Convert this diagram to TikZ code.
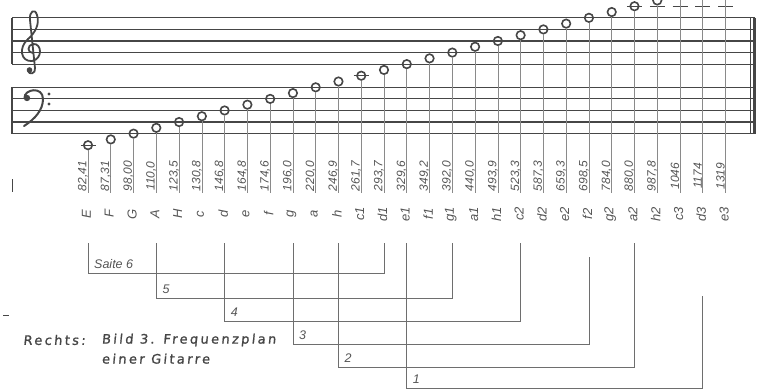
\documentclass[tikz,border=0pt]{standalone}
\usepackage{fontspec}
\usepackage{tikz}
\usetikzlibrary{positioning}
\definecolor{inkgray}{HTML}{464646}
\definecolor{stemgray}{HTML}{8A8A8A}
\definecolor{textgray}{HTML}{555555}
\newfontfamily\captionfont[LetterSpace=18,FakeSlant=0.1,FakeBold=1.2]{DejaVu Sans}
\newfontfamily\labelfont{Liberation Sans}

\begin{document}
\begin{tikzpicture}[x=1pt,y=-1pt,node distance=6pt,
  staffline/.style={inkgray,line width=1.1pt},
  stem/.style={stemgray,line width=0.6pt},
  ledger/.style={inkgray,line width=1.1pt},
  notehead/.style={circle,draw=inkgray,line width=1.6pt,minimum size=8.5pt,inner sep=0pt},
  freq/.style={rotate=90,textgray,inner sep=0pt,font=\labelfont\itshape\fontsize{12}{12}\selectfont},
  tone/.style={rotate=90,textgray,inner sep=0pt,font=\labelfont\itshape\fontsize{13}{13}\selectfont},
  bracket/.style={stemgray!80!black,line width=0.7pt},
  saite/.style={textgray,inner sep=0pt,font=\labelfont\itshape\fontsize{12.5}{12.5}\selectfont},
  caption/.style={inkgray,inner sep=0pt,font=\captionfont\fontsize{13}{13}\selectfont}]
  \path[use as bounding box] (0,0) rectangle (763,389);
  \clip (0,0) rectangle (763,389);

  % staves
  \foreach \k in {2,4,6,8,10,14,16,18,20,22}{
    \pgfmathsetmacro\ly{145.2-5.79*\k}
    \draw[staffline] (12,\ly) -- (755,\ly);
  }
  \draw[staffline] (12,17.8) -- (12,64.1);
  \draw[staffline] (12,87.3) -- (12,133.6);
  \draw[staffline] (750.5,17.8) -- (750.5,133.6);
  \draw[inkgray,line width=2.4pt] (754.5,17.8) -- (754.5,133.6);

  % clefs
  \draw[inkgray,line width=1.8pt,line cap=round] (33,53) .. controls (27,53) and (27,45) .. (33,44)
    .. controls (42,43) and (43,59) .. (32,61)
    .. controls (21,62) and (18,48) .. (28,39)
    .. controls (35,33) and (40,24) .. (37,15)
    .. controls (35,8) and (29,11) .. (30,20)
    -- (35,68) .. controls (36,74) and (29,75) .. (28,71);
  \fill[inkgray] (29.5,70) circle (2.8);
  \fill[inkgray] (27,98) circle (3.2);
  \draw[inkgray,line width=2pt,line cap=round] (24.5,98) .. controls (24,89) and (43,86) .. (43,99)
    .. controls (43,110) and (35,119) .. (24,126);
  \fill[inkgray] (49,94) circle (1.7);
  \fill[inkgray] (49,104) circle (1.7);

  % ledger lines
  \foreach \i/\k in {0/0,12/12,24/24,25/24,26/24,26/26,27/24,27/26,28/24,28/26}{
    \pgfmathsetmacro\xx{88+22.77*\i}
    \pgfmathsetmacro\ly{145.2-5.79*\k}
    \draw[ledger] (\xx-7.5,\ly) -- (\xx+7.5,\ly);
  }

  % notes, frequencies, names
  \foreach \nm/\hz [count=\i from 0] in {E/{82,41},F/{87,31},G/{98,00},A/{110,0},H/{123,5},c/{130,8},d/{146,8},e/{164,8},f/{174,6},g/{196,0},a/{220,0},h/{246,9},c1/{261,7},d1/{293,7},e1/{329,6},f1/{349,2},g1/{392,0},a1/{440,0},h1/{493,9},c2/{523,3},d2/{587,3},e2/{659,3},f2/{698,5},g2/{784,0},a2/{880,0},h2/{987,8},c3/1046,d3/1174,e3/1319}{
    \pgfmathsetmacro\xx{88+22.77*\i}
    \pgfmathsetmacro\yy{145.2-5.79*\i}
    \node[notehead] (n\i) at (\xx,\yy) {};
    \coordinate (s\i) at (\xx,193);
    \draw[stem] (n\i.south) -- (s\i);
    \node[freq] (f\i) at (\xx-5,176) {\hz};
    \node[tone] (t\i) at (\xx-1.5,214) {\nm};
  }

  % strings
  \foreach \s/\o/\e/\yb/\top/\lbl in {6/0/13/273/243/Saite 6,5/3/16/298/243/5,4/6/19/321/243/4,3/9/22/344/257/3,2/11/24/367/243/2,1/14/27/388/296/1}{
    \coordinate (o\s) at ({88+22.77*\o},243);
    \coordinate (b\s) at ({88+22.77*\o},\yb);
    \coordinate (c\s) at ({88+22.77*\e},\yb);
    \coordinate (e\s) at ({88+22.77*\e},\top);
    \draw[bracket] (o\s) -- (b\s) -- (c\s) -- (e\s);
    \node[saite,above right=4pt and 6pt of b\s] (lab\s) {\lbl};
  }
  \coordinate (bottom1) at ({88+22.77*14},389);
  \draw[bracket] (b1) -- (bottom1);

  % marks at the edge
  \draw[inkgray,line width=1pt] (12,179) -- (12,192);
  \draw[inkgray,line width=1pt] (3,315) -- (9,315);

  % caption
  \node[caption,anchor=west] (caphead) at (23,340) {Rechts:};
  \node[caption,right=16pt of caphead] (captitle) {Bild 3. Frequenzplan};
  \node[caption,below=7pt of captitle.south west,anchor=north west] (capend) {einer Gitarre};
\end{tikzpicture}
\end{document}
